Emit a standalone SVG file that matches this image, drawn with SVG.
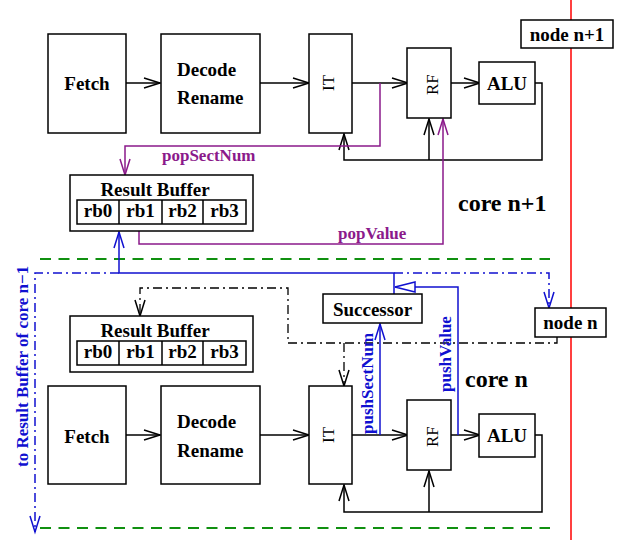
<svg xmlns="http://www.w3.org/2000/svg" width="628" height="540" viewBox="0 0 628 540">
<style>
text{font-family:"Liberation Serif","Times New Roman",serif;font-weight:bold;fill:#000}
.box{fill:#fff;stroke:#000;stroke-width:1.5}
.ln{fill:none;stroke:#000;stroke-width:1.5}
.lbl{font-size:19px}
.rot{font-size:17px;font-weight:normal}
.core{font-size:24px}
.pur{fill:none;stroke:#8b1a8b;stroke-width:1.5}
.blu{fill:none;stroke:#1010d0;stroke-width:1.5}
.bdd{fill:none;stroke:#1010d0;stroke-width:1.5;stroke-dasharray:9 4 2 4}
.kdd{fill:none;stroke:#000;stroke-width:1.3;stroke-dasharray:9 4 2 4}
.grn{fill:none;stroke:#109010;stroke-width:2;stroke-dasharray:11 7.5}
.tp{fill:#8b1a8b;font-size:17px}
.tb{fill:#1010d0;font-size:17px}
</style>
<defs>
<marker id="ak" markerUnits="userSpaceOnUse" markerWidth="20" markerHeight="14" refX="17" refY="7" orient="auto" overflow="visible"><path d="M1,2 L17,7 L1,12" fill="none" stroke="#000" stroke-width="1.5"/></marker>
<marker id="ap" markerUnits="userSpaceOnUse" markerWidth="20" markerHeight="14" refX="17" refY="7" orient="auto" overflow="visible"><path d="M1,2 L17,7 L1,12" fill="none" stroke="#8b1a8b" stroke-width="1.5"/></marker>
<marker id="ab" markerUnits="userSpaceOnUse" markerWidth="20" markerHeight="14" refX="17" refY="7" orient="auto" overflow="visible"><path d="M1,2 L17,7 L1,12" fill="none" stroke="#1010d0" stroke-width="1.5"/></marker>
<marker id="tb" markerUnits="userSpaceOnUse" markerWidth="22" markerHeight="12" refX="20" refY="6" orient="auto" overflow="visible"><path d="M0,1 L20,6 L0,11 Z" fill="#fff" stroke="#1010d0" stroke-width="1.5"/></marker>
</defs>

<line x1="571" y1="0" x2="571" y2="540" stroke="#ff0000" stroke-width="1.5"/>

<g id="connectors">
<!-- core n+1 -->
<path class="ln" d="M126,83 H160" marker-end="url(#ak)"/>
<path class="ln" d="M260,83 H309" marker-end="url(#ak)"/>
<path class="ln" d="M352,83 H408" marker-end="url(#ak)"/>
<path class="ln" d="M451,83 H480" marker-end="url(#ak)"/>
<path class="ln" d="M535,83 H542 V160 H344 V134" marker-end="url(#ak)"/>
<path class="ln" d="M429,160 V119" marker-end="url(#ak)"/>
<path class="pur" d="M380,83 V146 H125 V175" marker-end="url(#ap)"/>
<path class="pur" d="M139,231 V244 H443 V119" marker-end="url(#ap)"/>
<!-- core n -->
<path class="ln" d="M126,435 H160" marker-end="url(#ak)"/>
<path class="ln" d="M260,435 H309" marker-end="url(#ak)"/>
<path class="ln" d="M352,435 H408" marker-end="url(#ak)"/>
<path class="ln" d="M451,435 H480" marker-end="url(#ak)"/>
<path class="ln" d="M535,435 H542 V512 H344 V485" marker-end="url(#ak)"/>
<path class="ln" d="M429,512 V471" marker-end="url(#ak)"/>
<!-- separators -->
<path class="grn" d="M40,259 H550"/>
<path class="grn" d="M40,528 H550"/>
<!-- successor links -->
<path class="blu" d="M394,294 V273 H119 V232" marker-end="url(#ab)"/>
<path class="bdd" d="M394,273 H549 V308" marker-end="url(#ab)"/>
<path class="bdd" d="M119,273 H35 V532" marker-end="url(#ab)"/>
<path class="blu" d="M458,435 V287 H395" marker-end="url(#tb)"/>
<path class="blu" d="M380,435 V324" marker-end="url(#ab)"/>
<path class="kdd" d="M557,337 V343 H288 V288 H140 V316" marker-end="url(#ak)"/>
<path class="kdd" d="M344,343 V386" marker-end="url(#ak)"/>
<!-- labels -->
<text class="tp" x="162" y="161">popSectNum</text>
<text class="tp" x="338" y="239">popValue</text>
<text class="tb" transform="translate(373,434) rotate(-90)">pushSectNum</text>
<text class="tb" transform="translate(451,392) rotate(-90)">pushValue</text>
<text class="tb" transform="translate(28,467) rotate(-90)">to Result Buffer of core n−1</text>
</g>

<!-- core n+1 nodes -->
<g id="fetch1"><rect class="box" x="48" y="34" width="78" height="99"/><text class="lbl" x="87" y="90" text-anchor="middle">Fetch</text></g>
<g id="decode1"><rect class="box" x="161" y="34" width="99" height="99"/><text class="lbl" x="177" y="76">Decode</text><text class="lbl" x="177" y="104">Rename</text></g>
<g id="it1"><rect class="box" x="309" y="34" width="43" height="99"/><text class="rot" transform="translate(334,91) rotate(-90)">IT</text></g>
<g id="rf1"><rect class="box" x="407" y="48" width="44" height="70"/><text class="rot" transform="translate(438,95) rotate(-90)">RF</text></g>
<g id="alu1"><rect class="box" x="479" y="62" width="56" height="42"/><text class="lbl" x="507" y="90" text-anchor="middle">ALU</text></g>
<g id="rb1">
<rect class="box" x="70" y="175" width="183" height="56"/>
<text class="lbl" x="155" y="196" text-anchor="middle">Result Buffer</text>
<rect class="box" x="77" y="200" width="169" height="24"/>
<path class="ln" d="M119,200 V224 M162,200 V224 M203,200 V224"/>
<text class="lbl" x="98" y="217" text-anchor="middle">rb0</text>
<text class="lbl" x="140.5" y="217" text-anchor="middle">rb1</text>
<text class="lbl" x="182.5" y="217" text-anchor="middle">rb2</text>
<text class="lbl" x="224.5" y="217" text-anchor="middle">rb3</text>
</g>
<g id="nodeN1"><rect class="box" x="521" y="20" width="92" height="28"/><text class="lbl" x="567" y="41" text-anchor="middle">node n+1</text></g>
<g id="coreN1label"><text class="core" x="458" y="211">core n+1</text></g>

<!-- core n nodes -->
<g id="successor"><rect class="box" x="323" y="294" width="99" height="29"/><text class="lbl" x="372.5" y="316" text-anchor="middle">Successor</text></g>
<g id="nodeN"><rect class="box" x="535" y="308" width="71" height="29"/><text class="lbl" x="570.5" y="329" text-anchor="middle">node n</text></g>
<g id="rb2">
<rect class="box" x="70" y="316" width="183" height="56"/>
<text class="lbl" x="155" y="337" text-anchor="middle">Result Buffer</text>
<rect class="box" x="77" y="341" width="169" height="24"/>
<path class="ln" d="M119,341 V365 M162,341 V365 M203,341 V365"/>
<text class="lbl" x="98" y="358" text-anchor="middle">rb0</text>
<text class="lbl" x="140.5" y="358" text-anchor="middle">rb1</text>
<text class="lbl" x="182.5" y="358" text-anchor="middle">rb2</text>
<text class="lbl" x="224.5" y="358" text-anchor="middle">rb3</text>
</g>
<g id="fetch2"><rect class="box" x="48" y="386" width="78" height="98"/><text class="lbl" x="87" y="443" text-anchor="middle">Fetch</text></g>
<g id="decode2"><rect class="box" x="161" y="386" width="99" height="98"/><text class="lbl" x="177" y="428">Decode</text><text class="lbl" x="177" y="457">Rename</text></g>
<g id="it2"><rect class="box" x="309" y="386" width="43" height="98"/><text class="rot" transform="translate(334,443) rotate(-90)">IT</text></g>
<g id="rf2"><rect class="box" x="407" y="400" width="44" height="70"/><text class="rot" transform="translate(438,447) rotate(-90)">RF</text></g>
<g id="alu2"><rect class="box" x="479" y="414" width="56" height="43"/><text class="lbl" x="507" y="442" text-anchor="middle">ALU</text></g>
<g id="coreNlabel"><text class="core" x="465" y="387">core n</text></g>
</svg>
